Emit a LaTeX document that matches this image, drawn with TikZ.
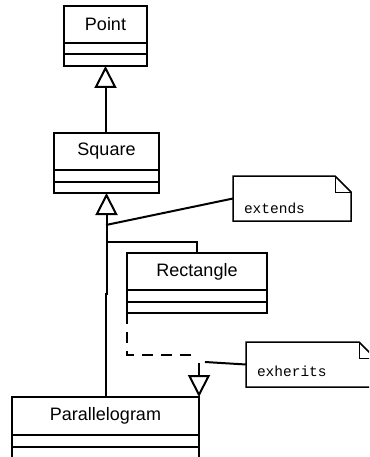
\documentclass[tikz,border=0pt]{standalone}
\usepackage{fontspec}
\setmainfont{Liberation Sans}
\newfontfamily\notefont{Liberation Mono}
\usetikzlibrary{arrows.meta}
\begin{document}
\begin{tikzpicture}[x=1pt,y=-1pt,line width=2pt,
  cls/.style={draw,rectangle,inner sep=0pt,outer sep=0pt,anchor=north west,minimum height=37pt,font=\fontsize{18}{20}\selectfont},
  comp/.style={draw,rectangle,inner sep=0pt,outer sep=0pt,anchor=north west,minimum height=11.5pt},
  gen/.style={-{Triangle[open,length=22pt,width=22pt,line width=2pt]}},
  real/.style={dash pattern=on 11pt off 8pt},
  notebox/.style={rectangle,inner sep=0pt,outer sep=0pt,anchor=north west,minimum width=#1,minimum height=45pt},
  notetext/.style={inner sep=0pt,anchor=base west,font=\notefont\fontsize{14.5}{16}\selectfont},
  noteline/.style={line width=1.5pt},
  fold/.style={line width=1pt}]
\useasboundingbox (0,0) rectangle (369,457);
\begin{scope}
\clip (0,0) rectangle (369,457);
% classes
\node[cls,minimum width=83pt] (point) at (64,6) {Point};
\node[comp,minimum width=83pt] (pointA) at (point.south west) {};
\node[comp,minimum width=83pt] (pointB) at (pointA.south west) {};

\node[cls,minimum width=105pt] (square) at (54,133) {Square};
\node[comp,minimum width=105pt] (squareA) at (square.south west) {};
\node[comp,minimum width=105pt] (squareB) at (squareA.south west) {};

\node[cls,minimum width=140pt] (rect) at (127,253) {Rectangle};
\node[comp,minimum width=140pt] (rectA) at (rect.south west) {};
\node[comp,minimum width=140pt] (rectB) at (rectA.south west) {};

\node[cls,minimum width=187pt,minimum height=38pt] (para) at (12,397) {Parallelogram};
\node[comp,minimum width=187pt] (paraA) at (para.south west) {};
\node[comp,minimum width=187pt] (paraB) at (paraA.south west) {};

% generalization Square -> Point
\draw[gen] (pointB.south |- square.north) -- (pointB.south);

% Parallelogram / Rectangle -> Square
\coordinate (j) at (105.5,294);
\coordinate (m) at (106,242);
\coordinate (e) at (106,225);
\draw[gen] (para.north west -| j) -- (j) -- (j -| squareB.south) -- (squareB.south);
\draw (rect.north) |- (m);

% realization Parallelogram -> Rectangle
\coordinate (d1) at (127,355);
\coordinate (d2) at (197,355);
\coordinate (s) at (199,363);
\draw[real] (rectB.south west) -- (d1) -- (d2);
\draw[gen] (s) -- (para.north east);

% note extends
\node[notebox=118pt] (n1) at (233,176) {};
\draw[noteline] (n1.north west) -- ([xshift=-16pt]n1.north east) -- ([yshift=-16pt]n1.north east) -- (n1.south east) -- (n1.south west) -- cycle;
\draw[fold] ([xshift=-16pt]n1.north east) -- ([xshift=-16pt,yshift=-16pt]n1.north east) -- ([yshift=-16pt]n1.north east);
\node[notetext] (t1) at (243,213) {extends};
\draw (e) -- (n1.west);

% note exherits
\node[notebox=129pt] (n2) at (246,342) {};
\draw[noteline] (n2.north west) -- ([xshift=-16pt]n2.north east) -- ([yshift=-16pt]n2.north east) -- (n2.south east) -- (n2.south west) -- cycle;
\draw[fold] ([xshift=-16pt]n2.north east) -- ([xshift=-16pt,yshift=-16pt]n2.north east) -- ([yshift=-16pt]n2.north east);
\node[notetext] (t2) at (256,376) {exherits};
\coordinate (c2) at (205,362);
\draw (c2) -- (n2.west);
\end{scope}
\end{tikzpicture}
\end{document}
